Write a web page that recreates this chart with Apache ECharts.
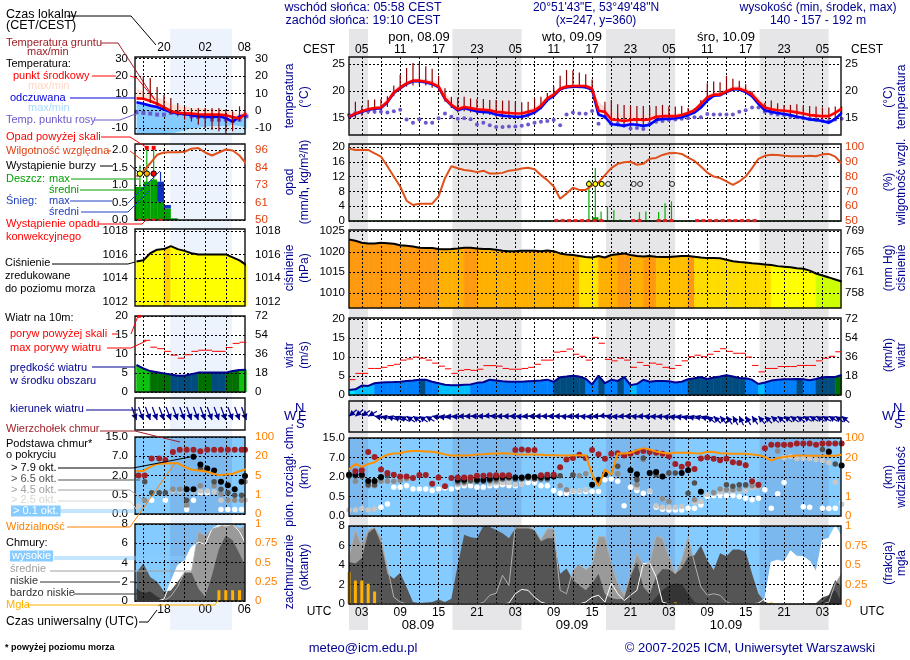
<!DOCTYPE html>
<html><head><meta charset="utf-8">
<style>html,body{margin:0;padding:0;background:#fff}#c{width:910px;height:660px}</style>
<script src="https://cdn.jsdelivr.net/npm/echarts@6/dist/echarts.min.js"></script>
</head><body><div id="c"></div>
<script>
// ---------- main meteogram: index = hours since 01 UTC 08.09 ----------
const M_tMean=[15.2,15.8,16.2,16.6,16.8,16.9,18.0,19.7,20.6,21.4,21.9,21.9,21.7,21.4,20.8,18.6,17.4,16.6,17.0,16.8,16.6,16.5,16.4,16.1,16.0,15.9,15.8,15.8,16.1,16.4,17.2,18.6,19.3,20.4,20.8,20.9,20.9,20.9,20.4,16.3,16.1,14.7,14.6,14.4,14.6,14.7,14.6,14.7,15.2,15.3,15.3,15.3,15.5,15.9,16.4,17.6,18.8,19.3,19.3,19.9,20.4,20.4,20.0,19.3,18.0,16.9,16.6,16.4,16.3,16.2,16.0,15.8,15.5,15.4,15.3,15.3,15.9,16.7];
const M_tFeels=[15.1,15.7,16.1,16.5,16.7,16.8,17.9,19.6,20.5,21.3,21.8,21.8,21.6,21.3,20.7,18.5,17.3,16.4,16.8,16.5,16.2,16.1,16.0,15.6,15.4,15.3,15.2,15.2,15.5,16.0,16.9,18.3,19.1,20.3,20.7,20.8,20.8,20.7,20.2,15.6,15.2,13.8,13.7,13.5,13.8,13.7,13.5,13.7,14.6,14.8,14.8,14.9,15.1,15.5,16.0,16.9,18.2,19.1,19.2,19.8,20.3,20.3,19.8,19.0,17.6,16.4,16.1,15.9,15.7,15.5,15.2,15.0,14.7,14.6,14.4,14.1,14.8,15.9];
const M_tMax=[15.6,16.1,16.6,16.9,17.1,17.3,18.6,20.2,21.1,21.8,22.2,22.3,22.2,22.0,21.5,19.6,18.4,17.2,17.6,17.4,17.2,17.1,17.0,16.7,16.5,16.4,16.2,16.2,16.5,17.0,17.9,19.1,19.8,20.8,21.2,21.2,21.2,21.2,20.8,18.0,17.0,16.2,15.8,15.5,15.6,15.7,15.5,15.5,15.8,15.8,15.8,15.8,15.9,16.3,16.8,18.0,19.2,19.8,20.0,20.4,20.8,20.9,20.6,20.0,18.8,17.5,17.2,17.0,16.9,16.7,16.5,16.3,16.0,15.9,15.7,15.7,16.3,17.1];
const M_tMin=[14.9,15.4,15.8,16.2,16.4,16.5,17.6,19.2,20.1,20.9,21.5,21.5,21.2,20.9,20.3,18.1,16.9,16.1,16.4,16.1,15.8,15.7,15.6,15.2,15.0,14.9,14.8,14.8,15.1,15.6,16.5,17.9,18.7,20.0,20.4,20.5,20.5,20.4,19.8,15.2,14.8,13.4,13.3,13.1,13.4,13.3,13.1,13.3,14.2,14.4,14.4,14.5,14.7,15.1,15.6,16.5,17.8,18.8,18.9,19.5,20.0,20.0,19.5,18.6,17.2,16.0,15.7,15.5,15.3,15.1,14.8,14.6,14.3,14.2,14.0,13.7,14.4,15.5];
const M_dew=[15.5,15.9,16.1,16.2,16.1,16.1,16.0,16.2,16.5,14.7,14.1,14.7,14.1,14.1,14.9,15.8,15.2,14.8,14.9,14.75,13.75,14.1,13.6,13.3,13.3,13.4,13.4,13.5,13.75,14.1,14.25,14.4,14.6,13.6,15.6,16.0,15.8,15.75,16.25,13.9,15.2,13.9,13.9,13.6,13.0,13.1,12.9,13.9,14.25,14.4,14.6,14.7,14.8,14.9,15.1,15.1,15.7,15.6,15.6,15.6,15.6,16.1,16.4,16.9,16.9,16.1,15.8,15.6,15.5,15.2,15.1,14.9,14.8,14.6,14.4,14.4,14.7,14.8];
const M_groundHi=[15.8,18.0,17.2,18.3,18.4,18.5,19.0,21.0,23.0,24.25,25.2,25.2,24.6,24.1,22.8,20.5,18.9,18.75,18.9,18.6,18.5,18.5,18.3,18.3,18.2,18.2,18.0,17.9,18.0,18.6,18.9,19.6,20.8,22.8,23.9,23.8,23.4,23.1,22.1,17.1,18.0,18.3,17.5,17.4,17.2,17.2,17.2,17.1,17.2,17.4,17.1,17.1,17.2,16.8,16.8,18.3,21.4,21.75,21.6,22.8,22.25,21.9,21.25,19.9,18.3,17.8,18.2,17.7,17.4,17.4,17.5,17.25,17.2,17.1,16.9,16.9,17.1,17.1];
const M_groundLo=[14.8,14.9,15.4,15.7,15.8,16.0,17.0,19,20,20.8,21,21,21,20.6,20,18,16.8,16,16.2,16,15.7,15.6,15.5,15.2,15,14.8,14.7,14.6,15,15.6,16.6,18,18.8,20,20.4,20.5,20.5,20.4,19.7,15.4,14.8,13.6,13.4,13.2,13.4,13.4,13.3,13.5,14.3,14.5,14.5,14.6,14.8,15.2,15.8,16.7,18,19,19,19.6,20,20,19.6,18.8,17.4,16.2,15.9,15.7,15.5,15.3,15,14.8,14.5,14.4,14.2,13.9,14.6,15.7];
const M_hum=[99,98,98,98,95.7,93.5,87,80,73.3,63.7,60.8,61.7,61.7,61.7,66.6,78.9,87,85.6,84.5,84,83,84,82,82,82.5,84,84.5,85.5,86,85,81,77.6,73.3,65,68.5,72.5,71,71,74,76,81,85.7,88.6,89.7,90,88,88.6,92,92.6,94.6,95.7,96,95.3,92.8,90.6,86.8,82.7,80,79,76.7,74.4,76.7,80,85.7,92,94,94.8,94.6,94,93.7,93.7,93.7,94,93.7,95,95.3,93.5,88.8];
const M_rainMax=[[37.5,11.1],[38.5,14.3],[39.4,2.6],[40.4,3.9],[41.4,2.9],[42.4,0.5],[45.4,2.4],[46.4,2.6],[48.4,2.4],[49.4,4.8],[50.4,5.3]];
const M_rainMean=[[37,38,0.1],[38,39,1.0],[40,41,0.2],[41,42,0.1],[49,50,0.1],[50,51,0.1]];
const M_stormYellow=[37.5,38.5,39.5];
const M_stormOpen=[40.5,44.5,45.5,50.5];
const M_convective=[32.4,33.4,34.4,35.4,36.4,37.4,38.4,39.4,44.4,45.4,48.4,49.4,50.4,54.4,55.4,56.4,57.4,58.4,59.4,60.4,61.4,62.4,63.4];
const M_press=[1023,1022.7,1022.2,1022,1022,1022.2,1022.1,1021.95,1021.6,1021.45,1021.3,1021,1020.9,1020.9,1020.7,1020.6,1020.65,1020.8,1021,1021,1020.8,1020.7,1020.65,1020.5,1020.25,1020.1,1020.15,1020.25,1020.25,1020.25,1020.15,1020.3,1020.15,1019.6,1019.35,1019.2,1018.95,1018.7,1018.6,1018.95,1018.6,1019.2,1019.4,1019.6,1019.2,1018.95,1018.85,1018.95,1018.8,1018.7,1018.7,1018.85,1018.95,1018.95,1018.8,1018.6,1018.45,1018.45,1018.4,1018.05,1017.7,1017.5,1017.4,1017.2,1017.1,1016.9,1016.8,1016.5,1016.35,1016.2,1016,1015.85,1015.4,1014.7,1014.2,1013.75,1013.25,1012.75];
const M_pressShade=[1,1,1,1,1,1,1,1,1,1,1,1,1,1,2,2,2,2,1,1,2,2,2,2,2,2,2,2,2,2,2,2,2,2,2,2,7,7,7,2,2,2,1,1,2,2,1,1,3,3,3,3,3,1,4,4,4,4,4,4,4,4,4,4,4,4,5,5,5,5,5,5,5,6,6,6,6];
const M_wind=[1.3,1.5,2.5,2.4,3.1,3.3,3.35,3.4,3.5,3.7,3.8,4.05,4,3.5,3.1,2.7,2.6,2.6,2.7,2.8,3.2,3.35,4.05,3.8,3.6,3.5,3.5,3.5,3.6,3.7,3.8,4.05,3.5,4.7,4.85,5.1,4.85,4.3,2.8,5.1,3.1,4,3.7,4.75,2.6,2.9,4,3.5,3.7,3.7,3.6,3.3,3.5,4.15,4.4,4.75,4.2,4.6,4.85,5.2,4.85,4.5,4.4,4,2.9,3.3,3.8,4,4.15,4.15,4.2,4.15,3.9,4.2,4.7,4.75,4.75,5.3];
const M_windShade=[0,1,1,1,2,2,2,2,2,2,2,3,2,2,1,1,1,1,1,2,2,2,2,2,2,2,2,2,2,2,2,2,3,3,3,3,3,2,2,3,2,2,3,2,1,2,2,2,2,2,2,2,2,3,3,3,3,3,3,3,3,3,2,2,1,2,2,2,2,2,3,2,2,3,3,3,4];
const M_gust=[4.05,5.7,5.7,7,7,7.3,7.75,8.1,9.2,9.5,10,9.7,9.2,8.4,7.6,6.9,5.7,6.5,6.7,6.5,6.8,7.75,7.75,7.6,7,6.8,6.8,7,7.3,8.1,9.2,9.2,11.3,11.5,12.1,10.75,10.2,9.2,15.2,13.65,9.4,9,9.7,9.2,7.3,8.6,7.8,8.4,8.1,7.3,7,7.8,9,10.1,10.5,10.1,10.75,11.5,12.2,11.5,11,11,10,7.8,6.1,7,7,7.5,7.5,7.5,7.8,7.8,7.8,9,9.7,10.2,11.4];
const M_dir=[50,50,55,60,100,105,110,115,120,125,125,125,120,100,100,95,95,90,90,90,90,85,90,90,90,90,95,90,90,90,90,90,90,95,90,90,95,95,90,85,95,95,90,90,95,90,95,95,95,100,100,100,105,105,105,110,130,135,140,145,150,155,150,145,140,135,130,130,125,125,125,120,120,120,120,120,125,130];
// cloud & visibility panels use step levels: 0=0, 1=0.5, 2=2, 3=7, 4=15 km  (0,1,5,20,100 km visibility)
const M_top=[[1,2.29],[2,2.34],[3,3.28],[4,3.03],[5,2.38],[6,2.21],[7,2.12],[8,2.03],[9,2.03],[10,1.95],[11,2.1],[12,2.1],[13,1.66],[14,1.98],[15,1.52],[16,1.95],[17,1.98],[18,1.98],[19,1.98],[20,2.07],[21,2.07],[22,2.09],[23,2.09],[24,2.09],[25,2.09],[26,3.38],[27,3.41],[28,3.38],[29,3.38],[30,2.09],[31,2.12],[32,2.12],[33,2.5],[34,2.9],[35,2.98],[36,3.14],[37,2.98],[38,3.38],[39,3.17],[40,2.93],[41,3.19],[42,3.22],[43,3.1],[44,3.19],[45,3.28],[46,3.33],[47,3.28],[48,3.24],[49,3.19],[50,3.07],[51,2.67],[52,2.52],[53,2.67],[54,2.41],[55,2.95],[56,3],[57,2.93],[58,2.86],[59,2.93],[60,2.76],[61,2.72],[62,2.6],[63,1.78],[64,1.6],[65,3.48],[66,3.66],[67,3.66],[68,3.66],[69,3.66],[70,3.72],[71,3.72],[72,3.72],[73,3.66],[74,3.72],[75,3.72],[76,3.72],[77,3.72]];
const M_black=[[0,2.12],[1,2.12],[2,2.12],[3,1.79],[4,1.79],[5,2],[17,1.86],[18,1.86],[20,1.86],[21,1.86],[22,1.91],[23,1.98],[24,2],[25,2.03],[26,1.98],[27,1.98],[28,2.03],[29,2],[30,2],[31,2],[32,2.03],[38,1.6],[39,1.86],[40,2.16],[44,2.34],[45,2.14],[47,2.21],[48,2.26],[49,2.03],[52,2.21],[53,2.34],[55,1.24],[75,3.28],[77,2.59]];
const M_dark=[[0,2.05],[1,2.05],[2,2.05],[3,1.6],[4,1.6],[5,1.95],[6,2.07],[17,1.78],[18,1.78],[19,1.83],[20,1.78],[21,1.78],[22,1.83],[23,1.9],[24,1.9],[25,1.95],[26,1.9],[27,1.9],[28,1.95],[29,1.9],[30,1.9],[31,1.9],[33,2.07],[35,2.1],[39,1.7],[42,2.55],[45,1.86],[46,2.98],[47,2.21],[48,2.12],[50,2.21],[51,2.21],[53,1.17],[54,1.69],[59,1.6],[60,1.52],[61,1.6],[62,1.6],[74,3.41],[75,3.33],[76,2.67]];
const M_grey=[[1,1.78],[2,2.03],[3,1.55],[4,1.55],[5,1.78],[6,1.78],[7,1.78],[8,1.83],[9,1.91],[17,1.69],[18,1.72],[19,1.78],[22,1.78],[23,1.8],[33,1.55],[34,1.34],[35,2.12],[36,2.07],[37,2.17],[42,2.17],[45,1.6],[46,2.9],[49,0.88],[50,0.74],[54,0.83],[57,1.21],[58,1.38],[59,1.34],[60,1.34],[61,1.38],[62,1.55],[63,1.55],[64,1.55],[67,3.33]];
const M_light=[[0,0.31],[1,0.31],[2,0.38],[3,0.31],[4,0.36],[6,1.78],[7,1.78],[8,1.88],[9,1.93],[17,1.6],[18,1.65],[22,1.65],[23,1.7],[24,1.72],[25,1.72],[26,1.62],[27,1.62],[35,1.3],[36,1.3],[37,1.34],[45,1.45],[47,1.3],[48,0.52],[49,0.45],[50,0.45],[51,0.45],[52,0.5],[54,0.7],[55,0.75],[56,1.1],[57,1.15],[58,1.24],[59,1.3],[60,1.3],[61,1.3],[62,1.3],[63,1.45],[64,1.5],[68,3],[69,3.05],[70,2.95],[71,2.95],[72,2.95],[73,2.9],[74,2.85],[75,2.75],[76,1.75],[77,0.6]];
const M_white=[[5,0.45],[6,0.62],[7,1.48],[8,1.48],[9,1.55],[10,1.38],[11,1.38],[12,1.38],[13,1.31],[14,1.38],[15,1.43],[16,1.38],[17,1.48],[18,1.55],[19,1.55],[20,1.48],[21,1.48],[22,1.55],[23,1.55],[24,1.6],[25,1.55],[26,1.55],[27,1.66],[28,1.72],[29,1.72],[30,1.55],[31,1.55],[32,1.31],[33,1.17],[34,1.17],[35,1.26],[36,1.26],[37,1.26],[38,1.26],[39,1.26],[40,1.86],[41,1.9],[42,1.78],[43,0.52],[44,1.48],[45,1.31],[46,1.17],[47,1.26],[48,0.45],[49,0.34],[50,0.31],[51,0.31],[52,0.31],[53,0.4],[54,0.4],[55,0.57],[56,1],[57,1.05],[58,1.05],[59,1.05],[60,1.05],[61,1],[62,0.91],[63,0.83],[64,0.91],[65,1.34],[66,0.4],[67,1.14],[68,1.72],[71,0.48],[72,0.45],[74,0.4],[75,0.38],[76,0.4],[77,0.66]];
const M_vis=[2.38,2.67,2.52,2.67,2.76,2.98,3.14,3.21,3.22,3.31,3.33,3.33,3.31,3.29,3.24,3.16,3.1,3.1,3.1,3.12,3.16,3.17,3.19,3.21,3.22,3.21,3.17,3.16,3.16,3.16,3.14,3.12,3.12,3.1,3.1,3.12,3.12,3.12,2.12,1.52,2.38,2.12,3.21,3.21,3.24,3.38,3.48,3.41,3.31,3.24,3.21,3.24,3.24,3.24,3.22,3.21,3.29,3.28,3.22,3.21,3.19,3.19,3.19,3.16,3.12,3.03,2.84,2.98,3.02,3.07,3.1,3.1,3.09,3.09,3.09,3.09,3.09,3.14];
const M_cLow=[4.3,4.15,4.7,7.25,7.8,6.2,3.1,2.6,3.2,1.75,0.2,0.1,0.15,0.2,0.45,0.2,0.55,4,7.1,6.85,6.75,8,7.9,7.6,7.25,6.75,7.75,7.75,7.75,7.6,6.4,6.75,6.75,3.1,3.65,2.45,1.9,1.4,2.1,3.1,1,0.6,0.5,0.55,2.8,4.3,1.75,1,2.8,3.6,3.55,3.1,3.65,4.85,5,6,4.5,3.5,5.2,4.9,5.6,5.6,5.35,3.1,1.05,0.2,0,0,0,0,0,0,0.1,0.1,0.7,0.9,2.45,1.75];
const M_cVery=[0,0,0,0,0,0,0,0,0,0,0,0,0,0,0,0,0,0,0,0,0,0,0,0,0,0,0,0,0,0,0,0,0,0,0,0,0,0,0,0,0,0,0,0,0,0,0,0,0.7,1.4,1.9,2.1,2.05,1.05,0.2,0,0,0,0,0,0,0,0,0,0,0,0,0,0,0,0,0,0,0,0.2,0.9,1.4,0.2];
const M_cMid=[4.85,7.6,6,7.6,7.85,6.75,3.8,0.7,0.2,0,0,0,0,0,0,0,0,0,0,0,0,0.15,0.9,1.1,2.95,1.9,8,8,8,7.6,6.6,7.7,7.7,1.4,1.05,3.5,4.05,3.5,4,6.9,6.9,4.2,2.1,0.9,3.1,5.2,4,4.2,7,6.75,4.85,3.1,4.5,6.9,4.2,1.75,0.9,1.05,0.9,0.2,0,0,0,0,0,0,0,0,0,0,0,0,0,0,0,0.2,2.1,3.1];
const M_cHigh=[0,0,0,0,0,0,0,0,0,0,0,0,0,0,0,0,0,0,0,0,0,0,0,0,0,0.1,1.05,1.5,1.4,0.7,0.2,0,0,0,0,0,0,0.2,0.7,0.9,0.2,2.15,1.05,0.35,0.9,1.4,4.15,4.2,2.8,0.2,0,0,0,0,0,0,0,0,0,0,0,0,0,0,0.1,0.55,4.3,4.5,4.3,5.45,4.9,4.85,4.4,3.3,6.55,6.75,8,6.9];
const M_fog=[[1,0.3],[2,0.3],[3,0.26],[4,0.16],[0,0.41],[50,0.01],[51,0.02],[66,0.02]];
const M_hours=[2,5,8,11,14,17,20,23,26,29,32,35,38,41,44,47,50,53,56,59,62,65,68,71,74];
const M_labelHours=[2,8,14,20,26,32,38,44,50,56,62,68,74];
const M_night=[[0,2.97],[16.17,26.97],[40.17,50.97],[64.17,74.97]];
// ---------- legend sample panels: x = UTC hours, 24 = 00 UTC next day ----------
const L_hours=[14,15,16,17,18,19,20,21,22,23,24,25,26,27,28,29,30];
const L_night=[[18.9,27.9]];
const L_tMean=[7.1,6.9,5.6,4,1.9,-0.2,-1.3,-1.5,-1.7,-2.1,-2.3,-2.3,-2.3,-2.7,-3.7,-4.6,-1.3];
const L_tFeels=[4.8,4,2.9,2.1,0.6,-0.8,-1.7,-1.9,-2.7,-3.3,-3.3,-3.8,-3.3,-4.2,-6.5,-3.3,-2.7];
const L_tMax=[13,11,9,7.7,6.3,4,2.9,2.9,1.5,1.5,1.5,0.6,0.6,0.6,-0.4,-2.3,0.6];
const L_tMin=[-13.4,-13.4,-13.4,-13.4,-13.4,-13.4,-12.5,-11.5,-10.5,-10,-9.5,-9,-9,-9,-8.5,-9,-10];
const L_dew=[-1,-1.3,-1.7,-2.3,-2.3,-1.3,-1.3,-1.9,-3.3,-3.7,-3.7,-5.2,-5.2,-5.2,-5.6,-5.2,-3.3];
const L_groundHi=[null,20,18.8,13.6,9,7.3,4.4,2.1,1.5,1.5,1.5,1.5,1.5,0.6,-0.4,2.5,null];
const L_groundLo=[null,6.5,4.4,2.5,0.5,-2,-3.3,-5.2,-6.3,-8.2,-10,-11,-11.9,-12.9,-11.9,-6.2,null];
const L_hum=[78.6,82,87.4,93,94.5,94.7,94.7,95,97,97.4,94.5,92.5,94.5,96.5,95.8,92.5,87];
const L_rainMean=[[13.78,15,0.95],[15,16,1.1],[16,17,1.16],[17,18,0.52],[18,19,0.33],[19,20,0.05]];
const L_snowMean=[[17,18,0.52,1.1],[18,19,0.33,0.43]];
const L_rainMax=[[14.5,1.57],[15.5,2.07],[16.5,2.07]];
const L_snowMax=[[17.5,1.1,1.38]];
const L_stormPts=[[14.5,1.33,'#ffff00'],[15.5,1.33,'#ffa500'],[16.5,1.33,'#ff0000']];
const L_over=[[15.5,2.07],[16.5,2.07]];
const L_convective=[14.5,15.5,16.5,17.5];
const L_press=[1015.4,1015.5,1016.1,1016.4,1016.45,1016.7,1016.45,1016.3,1016.1,1016,1016,1016,1016,1016,1015.75,1015.5,1015.1];
const L_pressShade=[0,0,0,0,3,0,0,0,0,0,0,0,0,0,0,0];
const L_wind=[7.1,6.2,5.5,5.2,4.9,4.6,4.3,4.3,4.7,5.1,5.1,5.1,5.1,5.1,5.5,5.8,5.85];
const L_windShade=[5,5,4,4,4,3,3,3,3,4,4,3,3,4,4,5];
const L_gust=[null,13.6,11.8,11.4,10.7,9.7,8.9,9.8,10.7,11,11,10.7,10.7,11.7,12.8,13.1];
const L_gustOver=[[14.4,19.9]];
const L_dir=[340,340,340,340,340,340,340,340,340,340,340,340,340,340,340,340,340];
const L_top=[[14.3,2],[15.2,2],[16.2,2.88],[17.3,2.88],[18.2,2.8],[19.3,3.22],[20.3,3.34],[21.3,3.34],[22.3,3.34],[23.3,3.26],[24.3,3.34],[25.3,3.34],[26.3,3.34],[27.3,3.34],[28.3,3.34],[29.3,3.34],[29.8,3.34]];
const L_black=[[21.3,1.29],[22.3,2.98],[22.3,1.29],[23.3,2.57],[24.3,2.36],[25.3,2.26],[26.3,1.67],[27.3,1.5],[28.3,1.29],[29.3,1.67],[29.8,1.97]];
const L_dark=[[15.2,1.67],[16.2,1.1],[17.3,1.1],[18.2,1.1],[21.3,0.72],[23.3,2.36],[25.3,1.67],[26.3,1.29],[27.3,1.1],[28.3,0.98],[29.3,0.98]];
const L_grey=[[15.2,0.72],[19.3,1.29],[20.3,1.29],[21.3,0.47],[23.3,1.47],[25.3,1.47],[26.3,1.03],[27.3,0.72],[28.3,0.72],[29.3,0.72],[29.8,1.67]];
const L_light=[[14.3,0.41],[19.3,1.2],[20.3,1.2],[22.3,1.2],[23.3,1.2],[24.3,1.2],[25.3,1.15],[26.3,0.72],[27.3,0.72],[28.3,0.72],[29.3,0.72],[29.8,0.72]];
const L_white=[[16.2,0.72],[18.2,0.72],[21.3,0.24],[22.3,0.72],[23.3,1.1],[24.3,1.1],[26.3,0.24],[27.3,0.24],[28.3,0.24],[29.3,0.24]];
const L_vis=[2.24,2.24,2.45,2.6,2.62,2.64,2.64,2.45,2.31,2.26,2.22,2.12,2.02,2.05,2.09,2.22,2.33];
const L_cLow=[3,3.9,2.5,2,1,1.1,2,3,3,1.3,0.45,2.7,5.4,6.8,6.3,4.9,3.4];
const L_cVery=[1.3,0.8,1,0.45,0.1,0,0,0,0,0,0,0,0,0,0,0,0];
const L_cMid=[0,0,0,0,0,0.5,1.5,3,3,7.2,6.8,7.5,7.7,8,8,7.5,7.9];
const L_cHigh=[0,0,0,0,0.2,2,3.7,4.2,5.6,6.1,5.9,7.5,7.9,7.8,8,7.2,5.8];
const L_fog=[[26,0.14],[27,0.14],[28,0.14],[29,0.14]];
// ---------- tick labels & palettes ----------
const levelKm=['0.0','0.5','2.0','7.0','15.0'];
const levelVis=['0','1','5','20','100'];
const hgLabels={1010:'758',1015:'761',1020:'765',1025:'769'};
const pressColors=['#ffc000','#ff9a10','#ffb000','#ffbe00','#ffdc00','#ffff00','#ccff00','#ffe400'];
const L_pressColors=['#ffff00','#ffff00','#ffff00','#ffd000'];
const windColors=['#00e5ff','#00bfff','#0080ff','#004c80','#007000','#10c010'];

const FONT='"Liberation Sans"';
const NAVY='#000090';
const MAIN=[[57,135],[144,221],[230,308],[318,395],[401,432],[438,516],[526,604]];
const LEFT=[[57,134],[144,220],[229,306],[316,392],[398,430],[437,514],[524,601]];
const grids=[],xAxes=[],yAxes=[],series=[];
const idx=a=>a.map((_,i)=>i);
const pts=(xs,ys)=>xs.map((x,i)=>[x,ys[i]]);

function panel(isMain,i,yl,yr,xo){
  const [t,b]=(isMain?MAIN:LEFT)[i];
  const [l,w]=isMain?[349,492]:[135,110];
  const p=grids.length;
  grids.push({left:l,top:t,width:w,height:b-t,show:true,z:6,borderColor:'#111',borderWidth:1.4,backgroundColor:'transparent',containLabel:false});
  xAxes.push(Object.assign({type:'value',gridIndex:p,min:isMain?0:13.78,max:isMain?76.9:29.8,z:4,
    axisLine:{show:false},axisTick:{show:false,customValues:isMain?M_hours:[15,18,21,24,27]},
    splitLine:{show:true,lineStyle:{color:'#000',type:[2,2],width:1}},axisLabel:{show:false}},xo||{}));
  const ax=(o,pos)=>Object.assign({type:'value',gridIndex:p,position:pos,z:4,axisLine:{show:false},
    axisTick:{show:false,customValues:o.ticks},
    splitLine:{show:pos==='left'&&o.ticks.length>0,lineStyle:{color:'#000',type:[2,2],width:1}},
    min:o.min,max:o.max,
    axisLabel:{show:o.ticks.length>0,customValues:o.ticks,color:o.color||'#000',fontFamily:FONT,fontSize:11.5,
      margin:pos==='left'?(isMain?4:7):(isMain?4:10),formatter:o.fmt||(v=>String(v)),showMinLabel:true,showMaxLabel:true,hideOverlap:false}});
  yAxes.push(ax(yl,'left'),ax(yr,'right'));
  return p;
}
const ser=o=>{series.push(Object.assign({silent:true,animation:false},o));};
function line(p,r,xs,ys,color,w,z){ser({type:'line',xAxisIndex:p,yAxisIndex:2*p+r,data:pts(xs,ys),showSymbol:false,symbol:'none',z:z||5,clip:false,lineStyle:{color,width:w},connectNulls:false});}
function area(p,r,xs,ys,color){ser({type:'line',xAxisIndex:p,yAxisIndex:2*p+r,data:pts(xs,ys),showSymbol:false,symbol:'none',z:3,lineStyle:{width:0},areaStyle:{color,opacity:1,origin:'start'}});}
function dots(p,r,data,color,size,sym,z,style){ser({type:'scatter',xAxisIndex:p,yAxisIndex:2*p+r,data,symbol:sym||'circle',symbolSize:size,z:z||5,clip:false,itemStyle:Object.assign({color,opacity:1},style||{})});}
function cust(p,r,z,data,renderItem){ser({type:'custom',xAxisIndex:p,yAxisIndex:2*p+r,z,clip:false,data,renderItem,encode:{x:0,y:1}});}
function segs(p,r,data,color,w,z){cust(p,r,z||5,data,(c,api)=>{const a=api.coord([api.value(0),api.value(1)]),b=api.coord([api.value(2),api.value(3)]);return {type:'line',shape:{x1:a[0],y1:a[1],x2:b[0],y2:b[1]},style:{stroke:color,lineWidth:w}};});}
function rects(p,r,data,color,z){cust(p,r,z,data,(c,api)=>{const a=api.coord([api.value(0),api.value(3)]),b=api.coord([api.value(1),api.value(2)]);return {type:'rect',shape:{x:a[0],y:a[1],width:b[0]-a[0],height:b[1]-a[1]},style:{fill:color}};});}
function between(p,r,xs,lo,hi,color,z){cust(p,r,z||3,[[xs[0],lo[0]]],(c,api)=>{const P=xs.map((x,i)=>api.coord([x,hi[i]])).concat(xs.map((x,i)=>api.coord([x,lo[i]])).reverse());return {type:'polygon',shape:{points:P},style:{fill:color}};});}
function shaded(p,r,xs,ys,shade,palette,base,z){const d=shade.map((s,i)=>[xs[i],ys[i],xs[i+1],ys[i+1],s]);
  cust(p,r,z||3,d,(c,api)=>{const x0=api.value(0),x1=api.value(2),col=palette[api.value(4)];const P=[api.coord([x0,base]),api.coord([x0,api.value(1)]),api.coord([x1,api.value(3)]),api.coord([x1,base])];return {type:'polygon',shape:{points:P},style:{fill:col,stroke:col,lineWidth:0.6}};});}
function arrows(p,xs,dirs,y,len){const d=dirs.map((a,i)=>[xs[i],y,a]);
  cust(p,0,5,d,(c,api)=>{const h=api.coord([api.value(0),api.value(1)]),a=api.value(2)*Math.PI/180,dx=Math.sin(a),dy=-Math.cos(a);
    return {type:'group',children:[
      {type:'line',shape:{x1:h[0],y1:h[1],x2:h[0]+dx*len,y2:h[1]+dy*len},style:{stroke:NAVY,lineWidth:1.2}},
      {type:'polygon',shape:{points:[h,[h[0]+dx*6-dy*3.2,h[1]+dy*6+dx*3.2],[h[0]+dx*6+dy*3.2,h[1]+dy*6-dx*3.2]]},style:{fill:NAVY}}]};});}
function skyPanel(p,xMin,xMax,nights,shade){rects(p,0,[[xMin,xMax,0,4]],'#84ccff',2);rects(p,0,nights.map(n=>[n[0],n[1],0,4]),shade,2);}

// background day/night strips on their own full-height grids
function strip(left,width,xMin,xMax,bands,color){
  const p=grids.length;
  grids.push({left,top:29,width,height:601,show:false});
  xAxes.push({type:'value',gridIndex:p,min:xMin,max:xMax,show:false});
  yAxes.push({type:'value',gridIndex:p,min:0,max:1,show:false},{type:'value',gridIndex:p,min:0,max:1,show:false});
  rects(p,0,bands.map(b=>[b[0],b[1],0,1]),color,1);
}

const fixed1=v=>v.toFixed(1);
const timeAxis=(pos,vals,fmt,margin)=>({position:pos,axisLabel:{show:true,customValues:vals,margin,color:'#000',fontFamily:FONT,fontSize:12,formatter:fmt,showMinLabel:true,showMaxLabel:true,hideOverlap:false}});
const pad=n=>String(n).padStart(2,'0');
const cestMain=v=>pad((Math.round(v)+3)%24), utcMain=v=>pad((Math.round(v)+1)%24);
const cestLeft=v=>pad((Math.round(v)+2)%24), utcLeft=v=>pad(Math.round(v)%24);

// ---- MAIN PANELS ----
const mx=idx(M_tMean);
const gridEnd=76.9;
let p=panel(true,0,{min:11.8,max:26.3,ticks:[15,20,25]},{min:11.8,max:26.3,ticks:[15,20,25]},timeAxis('top',M_labelHours,cestMain,1));
between(p,0,mx,M_tMean,M_tMax,'#ffd8d8');
between(p,0,mx,M_tMin,M_tFeels,'#b8e0ff');
segs(p,0,mx.map(i=>[i,M_groundLo[i],i,M_groundHi[i]]),'#900000',1.2,5);
dots(p,0,pts(mx,M_dew),'#6a5acd',4,'circle',5);
line(p,0,mx,M_tFeels,'#0000ff',2.6,6);
line(p,0,mx,M_tMean,'#ff0000',2.6,7);

p=panel(true,1,{min:0,max:20.8,ticks:[0,4,8,12,16,20]},{min:50,max:102,ticks:[50,60,70,80,90,100],color:'#e04010'});
rects(p,0,M_rainMean.map(r=>[r[0],r[1],0,r[2]]),'#00a000',3);
segs(p,0,M_rainMax.map(r=>[r[0],0,r[0],r[1]]),'#00b000',1.2,5);
segs(p,0,mx.slice(0,-1).map(i=>[i,0.03,i+1,0.03]),'#106010',1,4);
line(p,1,mx,M_hum,'#e0501a',2,6);
dots(p,0,M_convective.map(t=>[t,0.1]),'#e02020',[4,3],'rect',7);
dots(p,0,M_stormYellow.map(t=>[t,10]),'#ffff00',5,'circle',7,{borderColor:'#000',borderWidth:1});
dots(p,0,M_stormOpen.map(t=>[t,10]),'transparent',5,'circle',7,{borderColor:'#222',borderWidth:1});

p=panel(true,2,{min:1006.3,max:1025.3,ticks:[1010,1015,1020,1025]},{min:1006.3,max:1025.3,ticks:[1010,1015,1020,1025],fmt:v=>hgLabels[v]});
shaded(p,0,mx,M_press,M_pressShade,pressColors,1006.3);
line(p,0,mx,M_press,'#000',2,6);

p=panel(true,3,{min:0,max:20.3,ticks:[0,5,10,15,20]},{min:0,max:20.3,ticks:[0,5,10,15,20],fmt:v=>String(v*3.6)});
shaded(p,0,mx,M_wind,M_windShade,windColors,0);
line(p,0,mx,M_wind,'#000090',2,6);
segs(p,0,M_gust.map((g,i)=>[i,g,i+1,g]),'#ff0000',1,6);

p=panel(true,4,{min:0,max:1,ticks:[]},{min:0,max:1,ticks:[]});
arrows(p,mx,M_dir,0.51,10);

p=panel(true,5,{min:0,max:4,ticks:[0,1,2,3,4],fmt:v=>levelKm[v]},{min:0,max:4,ticks:[0,1,2,3,4],fmt:v=>levelVis[v],color:'#ff8000'});
skyPanel(p,0,gridEnd,M_night,'#7ab8ee');
dots(p,0,M_white,'#ffffff',5.5);dots(p,0,M_light,'#c8c8c8',5.5);dots(p,0,M_grey,'#8c8c8c',5.5);dots(p,0,M_dark,'#505050',5.5);dots(p,0,M_black,'#000000',6);dots(p,0,M_top,'#a02028',6);
line(p,0,mx,M_vis,'#ff9000',2,6);

p=panel(true,6,{min:0,max:8,ticks:[0,2,4,6,8]},{min:0,max:1,ticks:[0,0.25,0.5,0.75,1],color:'#ff8000'},timeAxis('bottom',M_labelHours,utcMain,3));
rects(p,0,[[0,gridEnd,0,8]],'#84ccff',2);
rects(p,0,M_night.map(n=>[n[0],n[1],0,8]),'#7ab8ee',2);
area(p,0,mx,M_cHigh,'#ffffff');area(p,0,mx,M_cMid,'#9a9a9a');area(p,0,mx,M_cLow,'#555555');area(p,0,mx,M_cVery,'#343434');
line(p,0,mx,M_cHigh,'#ffffff',1,5);line(p,0,mx,M_cMid,'#b0b0b0',1,5);
ser({type:'bar',xAxisIndex:p,yAxisIndex:2*p+1,data:M_fog,barWidth:3,z:5,itemStyle:{color:'#ffb000'}});

// ---- LEFT SAMPLE PANELS ----
const lx=L_hours;
p=panel(false,0,{min:-13.5,max:31,ticks:[-10,0,10,20,30]},{min:-13.5,max:31,ticks:[-10,0,10,20,30]},timeAxis('top',[18,24,29.7],cestLeft,3));
between(p,0,lx,L_tMin,L_tFeels,'#84ccff');
between(p,0,lx,L_tMin,lx.map(()=>-13.5),'#cce8fb');
between(p,0,lx,L_tMean,L_tMax,'#ffe0d4');
dots(p,0,pts(lx,L_dew),'#6a5acd',4,'rect',5);
line(p,0,lx,L_tFeels,'#0000ff',2.6,6);
line(p,0,lx,L_tMean,'#ff0000',2.6,7);
segs(p,0,lx.map((t,i)=>[t,L_groundLo[i],t,L_groundHi[i]]).filter(d=>d[1]!==null),'#900000',1.2,8);

p=panel(false,1,{min:0,max:2.18,ticks:[0,0.5,1,1.5,2],fmt:fixed1},{min:50,max:100.1,ticks:[50,61.5,73,84.5,96],fmt:v=>String(Math.floor(v)),color:'#e04010'});
rects(p,0,L_rainMean.map(r=>[r[0],r[1],0,r[2]]),'#00a000',3);
rects(p,0,L_snowMean.map(r=>[r[0],r[1],r[2],r[3]]),'#1030c0',3);
segs(p,0,L_rainMax.map(r=>[r[0],0,r[0],r[1]]),'#00b000',1.2,5);
segs(p,0,L_snowMax.map(r=>[r[0],r[1],r[0],r[2]]),'#1030c0',1.2,5);
line(p,1,lx,L_hum,'#e0501a',2,6);
dots(p,0,L_over,'#ff0000',4,'rect',7);
dots(p,0,L_convective.map(t=>[t,0.01]),'#e02020',[4,2],'rect',7);
L_stormPts.forEach(s=>dots(p,0,[[s[0],s[1]]],s[2],5.5,'circle',7,{borderColor:'#000',borderWidth:1}));

p=panel(false,2,{min:1011.64,max:1018.15,ticks:[1012,1014,1016,1018]},{min:1011.64,max:1018.15,ticks:[1012,1014,1016,1018]});
shaded(p,0,lx,L_press,L_pressShade,L_pressColors,1011.64);
line(p,0,lx,L_press,'#000',2,6);

p=panel(false,3,{min:0,max:20,ticks:[0,5,10,15,20]},{min:0,max:20,ticks:[0,5,10,15,20],fmt:v=>String(v*3.6)});
shaded(p,0,lx,L_wind,L_windShade,windColors,0);
line(p,0,lx,L_wind,'#000090',2,6);
segs(p,0,L_gust.map((g,i)=>[lx[i],g,lx[i+1],g]).filter(d=>d[1]!==null),'#ff0000',1,6);
dots(p,0,L_gustOver,'#ff0000',3,'rect',7);

p=panel(false,4,{min:0,max:1,ticks:[]},{min:0,max:1,ticks:[]});
arrows(p,lx,L_dir,0.31,14);

p=panel(false,5,{min:0,max:4,ticks:[0,1,2,3,4],fmt:v=>levelKm[v]},{min:0,max:4,ticks:[0,1,2,3,4],fmt:v=>levelVis[v],color:'#ff8000'});
skyPanel(p,13.78,29.8,L_night,'#7ab8ee');
dots(p,0,L_white,'#ffffff',5.5);dots(p,0,L_light,'#c8c8c8',5.5);dots(p,0,L_grey,'#8c8c8c',5.5);dots(p,0,L_dark,'#505050',5.5);dots(p,0,L_black,'#000000',6);dots(p,0,L_top,'#a02028',6);
line(p,0,lx,L_vis,'#ff9000',2,6);

p=panel(false,6,{min:0,max:8,ticks:[0,2,4,6,8]},{min:0,max:1,ticks:[0,0.25,0.5,0.75,1],color:'#ff8000'},timeAxis('bottom',[18,24,29.7],utcLeft,3));
rects(p,0,[[13.78,29.8,0,8]],'#84ccff',2);
rects(p,0,L_night.map(n=>[n[0],n[1],0,8]),'#7ab8ee',2);
area(p,0,lx,L_cHigh,'#ffffff');area(p,0,lx,L_cMid,'#9a9a9a');area(p,0,lx,L_cLow,'#5c5c5c');area(p,0,lx,L_cVery,'#343434');
line(p,0,lx,L_cHigh,'#ffffff',1,5);line(p,0,lx,L_cMid,'#b0b0b0',1,5);
ser({type:'bar',xAxisIndex:p,yAxisIndex:2*p+1,data:L_fog,barWidth:3,z:5,itemStyle:{color:'#ffb000'}});

strip(349,492,0,76.9,M_night,'#e6e6e8');
strip(135,110,13.78,29.8,L_night,'#ecf3fd');

// ---- TEXT ----
const graphic=[];
function T(s,x,y,color,o){o=o||{};graphic.push({type:'text',z:9,silent:true,x,y,
  style:{text:s,fill:color||'#000',font:(o.bold?'bold ':'')+(o.size||11)+'px '+FONT,align:o.align||'left',verticalAlign:'middle',
    backgroundColor:o.bg,padding:o.bg?[0,2]:0}});}
function W(pts,color,w){graphic.push({type:'polyline',z:8,silent:true,shape:{points:pts},style:{stroke:color,lineWidth:w||1,fill:null}});}
const C={align:'center',size:12.2}, D={align:'center',size:13}, H={align:'center',size:12};
// header
T('wschód słońca: 05:58 CEST',363,8,NAVY,{align:'center',size:12.5});T('zachód słońca: 19:10 CEST',363,21,NAVY,{align:'center',size:12.5});
T('20°51\'43"E, 53°49\'48"N',596,8,NAVY,H);T('(x=247, y=360)',596,21,NAVY,H);
T('wysokość (min, środek, max)',818,8,NAVY,C);T('140 - 157 - 192 m',818,21,NAVY,C);
T('CEST',319,50,'#000',H);T('CEST',867,50,'#000',H);T('UTC',319,612,'#000',H);T('UTC',872,612,'#000',H);
T('pon, 08.09',419,37,'#000',D);T('wto, 09.09',572,37,'#000',D);T('śro, 10.09',726,37,'#000',D);
T('08.09',418,625,'#000',D);T('09.09',572,625,'#000',D);T('10.09',726,625,'#000',D);
T('meteo@icm.edu.pl',363,648,NAVY,D);T('© 2007-2025 ICM, Uniwersytet Warszawski',750,648,NAVY,D);
T('* powyżej poziomu morza',5,648,'#000',{size:9,bold:true});
// rotated titles
function rot(s,x,y){graphic.push({type:'text',z:9,silent:true,x,y,rotation:Math.PI/2,style:{text:s,fill:NAVY,font:'12px '+FONT,align:'center',verticalAlign:'middle'}});}
[['temperatura',96,'(°C)',97],['opad',182,'(mm/h, kg/m²/h)',182],['ciśnienie',268,'(hPa)',268],['wiatr',355,'(m/s)',355],['pion. rozciągł. chm.',475,'(km)',477],['zachmurzenie',572,'(oktanty)',567]].forEach(r=>{rot(r[0],290,r[1]);rot(r[2],305,r[3]);});
[['(°C)','temperatura',97],['(%)','wilgotność wzgl.',182],['(mm Hg)','ciśnienie',268],['(km/h)','wiatr',355],['(km)','widzialność',477],['(frakcja)','mgła',563]].forEach(r=>{rot(r[0],889,r[2]);rot(r[1],902,r[2]);});
const W14={size:13};
T('W',284,416,NAVY,W14);T('N',295,408,NAVY,W14);T('E',298,416,NAVY,W14);T('S',296,424,NAVY,W14);
T('W',882,416,NAVY,W14);T('N',893,408,NAVY,W14);T('E',897,416,NAVY,W14);T('S',894,424,NAVY,W14);
// legend
const R='#ff0000',DR='#a02028',OR='#ff8000',G='#00a000',B='#2040c0',GG='#a0a0a0';
const BIG={size:12.5};
T('Czas lokalny',6,15,'#000',BIG);T('(CET/CEST)',6,26,'#000',BIG);W([[67,16],[131,16],[156,45]],'#000');
T('Temperatura gruntu',6,43,DR);T('max/min',27,52,DR);W([[101,43],[118,43],[155,100]],DR);
T('Temperatura:',6,64);
T('punkt środkowy',13,76,R);W([[92,76],[116,76]],R);W([[130,76],[137,78],[155,100]],R);
T('max/min',28,86,'#ffd8c8');
T('odczuwana',10,98,'#0000e0');W([[70,98],[135,98]],'#0000e0');
T('max/min',28,108,'#a8dcff');
T('Temp. punktu rosy',6,120,'#6a5acd');W([[94,120],[120,120],[138,113]],'#6a5acd');
T('Opad powyżej skali',6,137,R);W([[101,137],[130,137],[146,147]],R);
T('Wilgotność względna',6,151,'#e04010');W([[107,151],[111,151]],'#e04010');W([[130,151],[142,160]],'#e04010');
T('Wystąpienie burzy',6,166);W([[100,166],[113,166]],'#000');W([[130,165],[138,172]],'#000');
T('Deszcz:',6,179,G);T('max',49,179,G);W([[71,179],[139,179]],G);
T('średni',49,190,G);W([[80,190],[135,190]],G);
T('Śnieg:',6,201,B);T('max',49,201,B);W([[70,201],[112,201]],B);W([[128,203],[160,171]],B);
T('średni',49,212,B);W([[81,212],[128,212],[150,190]],B);
T('Wystąpienie opadu',6,224,R);T('konwekcyjnego',6,237,R);W([[98,224],[142,224],[146,220]],R);
T('Ciśnienie',5,263);T('zredukowane',5,276);T('do poziomu morza',5,289);W([[52,264],[128,264],[135,262]],'#000');
T('Wiatr na 10m:',5,318);
T('poryw powyżej skali',10,334,R);W([[112,334],[118,334]],R);W([[131,334],[138,316]],R);
T('max porywy wiatru',10,348,R);W([[107,348],[131,348],[146,341]],R);
T('prędkość wiatru',10,368,NAVY);T('w środku obszaru',10,381,NAVY);W([[92,367],[135,367]],NAVY);
T('kierunek wiatru',10,409,NAVY);W([[86,410],[138,410]],NAVY);
T('Wierzchołek chmur',6,429,DR);W([[100,431],[135,431],[180,442]],DR);
T('Podstawa chmur*',6,444);T('o pokryciu',6,455);
T('> 7.9 okt.',11,468);W([[58,468],[133,468],[190,457]],'#000');
T('> 6.5 okt.',11,479,'#505050');W([[58,480],[140,480]],'#505050');
T('> 4.5 okt.',11,490,GG);W([[58,490],[130,490],[143,500]],GG);
T('> 2.5 okt.',11,500,'#d8d8d0');W([[58,501],[130,501],[137,510]],'#d8d8d0');
T('> 0.1 okt.',11,511,'#fff',{bg:'#88ccff'});W([[55,510],[135,510]],'#88ccff');W([[55,512],[135,512]],'#88ccff');
T('Widzialność',6,527,OR);W([[67,527],[130,527],[175,463]],OR);
T('Chmury:',6,543);
T('wysokie',10,556,'#fff',{bg:'#88ccff'});W([[54,557],[186,557]],'#88ccff');W([[54,559],[186,559]],'#88ccff');
T('średnie',10,569,GG);W([[50,571],[193,571]],GG);
T('niskie',10,581,'#333');W([[40,582],[120,582]],'#333');W([[130,582],[135,582]],'#333');
T('bardzo niskie',10,593,'#333');W([[74,594],[135,594],[145,592]],'#333');
T('Mgła',6,605,'#ffb000');W([[26,605],[215,605],[218,600]],'#ffb000');
T('Czas uniwersalny (UTC)',6,622,'#000',{size:12.2});W([[139,622],[148,622],[157,610]],'#000');

echarts.init(document.getElementById('c'),null,{renderer:'canvas'}).setOption({
  animation:false,backgroundColor:'#fff',textStyle:{fontFamily:FONT},
  grid:grids,xAxis:xAxes,yAxis:yAxes,series,graphic:{elements:graphic}
});
</script></body></html>
